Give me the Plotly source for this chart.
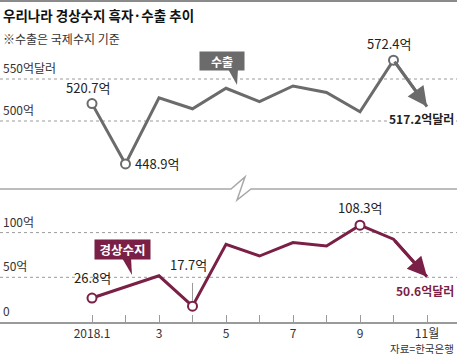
import plotly.graph_objects as go

W, H = 457, 356
FONT = "Noto Sans CJK KR"

# ---- data ----
months = [1, 2, 3, 4, 5, 6, 7, 8, 9, 10, 11]
month_labels = ["2018.1", "", "3", "", "5", "", "7", "", "9", "", "11월"]
exports = [520.7, 448.9, 527.7, 514.6, 539.0, 523.0, 541.7, 534.0, 511.0, 572.4, 517.2]
current = [26.8, 39.0, 51.7, 17.7, 87.0, 73.8, 88.8, 85.0, 108.3, 92.6, 50.6]
export_marks = [0, 1, 9]
current_marks = [0, 3, 8]
top_ticks = [550, 500]
top_tick_text = ["550억달러", "500억"]
bot_ticks = [100, 50, 0]
bot_tick_text = ["100억", "50억", "0"]

GRAY = "#6b6b6b"
MAROON = "#7a1f46"


def px(x):
    return x / W


def py(y):
    return 1 - y / H


# x scale: month 1 at pixel 92, 33.5 px per month
x_range = [1 - 92 / 33.5, 1 + (W - 92) / 33.5]
# bottom panel: 0 at pixel 322, 0.894 px per unit, top at 205
bot_range = [0, (322 - 205) / 0.894]
# top panel: 500 at pixel 121, 0.84 px per unit, domain 190..45
top_range = [500 - (190 - 121) / 0.84, 500 + (121 - 45) / 0.84]

fig = go.Figure()

fig.add_trace(go.Scatter(x=months, y=exports, xaxis="x2", yaxis="y2", mode="lines",
                         line=dict(color=GRAY, width=3), hoverinfo="skip"))
fig.add_trace(go.Scatter(x=[months[i] for i in export_marks], y=[exports[i] for i in export_marks],
                         xaxis="x2", yaxis="y2", mode="markers",
                         marker=dict(symbol="circle", size=9, color="white",
                                     line=dict(color=GRAY, width=2)), hoverinfo="skip"))
fig.add_trace(go.Scatter(x=months, y=current, mode="lines",
                         line=dict(color=MAROON, width=3), hoverinfo="skip"))
fig.add_trace(go.Scatter(x=[months[i] for i in current_marks], y=[current[i] for i in current_marks],
                         mode="markers",
                         marker=dict(symbol="circle", size=9, color="white",
                                     line=dict(color=MAROON, width=2)), hoverinfo="skip"))

shapes = []
# top border
shapes.append(dict(type="line", xref="paper", yref="paper", x0=0, x1=1, y0=py(1), y1=py(1),
                   line=dict(color="#8a8a8a", width=2)))
# gridlines
for v in top_ticks:
    shapes.append(dict(type="line", xref="paper", yref="y2", x0=0, x1=1, y0=v, y1=v,
                       line=dict(color="#9a9a9a", width=1, dash="dot"), layer="below"))
for v in bot_ticks[:-1]:
    shapes.append(dict(type="line", xref="paper", yref="y", x0=0, x1=1, y0=v, y1=v,
                       line=dict(color="#9a9a9a", width=1, dash="dot"), layer="below"))
# top panel baseline with break symbol
brk = [(0, 189), (231, 189), (245, 177), (237, 200), (251, 189), (W, 189)]
path = "M " + " L ".join(f"{px(a):.5f},{py(b):.5f}" for a, b in brk)
shapes.append(dict(type="path", xref="paper", yref="paper", path=path,
                   line=dict(color="#a8a8a8", width=1.5)))


# callout pointers (triangles below the text boxes)
def pointer(pts, color):
    p = "M " + " L ".join(f"{px(a):.5f},{py(b):.5f}" for a, b in pts) + " Z"
    return dict(type="path", xref="paper", yref="paper", path=p, layer="below",
                fillcolor=color, line=dict(color=color, width=0))


shapes.append(pointer([(238, 69), (237, 85), (228, 69)], GRAY))
shapes.append(pointer([(131, 258), (132, 275), (122, 258)], MAROON))
# leader line for 17.7
shapes.append(dict(type="line", xref="x", yref="y", x0=months[3], x1=months[3],
                   y0=current[3] + 6, y1=current[3] + 26, line=dict(color="#999", width=1)))

ann = []
ann.append(dict(text="<b>우리나라 경상수지 흑자·수출 추이</b>", xref="paper", yref="paper",
                x=px(1), y=py(15), xanchor="left", yanchor="middle", showarrow=False,
                font=dict(size=13.5, color="#111", family=FONT)))
ann.append(dict(text="※수출은 국제수지 기준", xref="paper", yref="paper",
                x=px(1), y=py(38), xanchor="left", yanchor="middle", showarrow=False,
                font=dict(size=12, color="#333", family=FONT)))
for v, t in zip(top_ticks, top_tick_text):
    ann.append(dict(text=t, xref="paper", yref="y2", x=px(1), y=v, xanchor="left", yanchor="bottom",
                    yshift=1, showarrow=False, font=dict(size=12, color="#333", family=FONT)))
for v, t in zip(bot_ticks, bot_tick_text):
    ann.append(dict(text=t, xref="paper", yref="y", x=px(1), y=v, xanchor="left", yanchor="bottom",
                    yshift=1, showarrow=False, font=dict(size=12, color="#333", family=FONT)))

lab = dict(size=13, color="#222", family=FONT)
ann.append(dict(text=f"{exports[0]}억", x=months[0], y=exports[0], xref="x2", yref="y2",
                yanchor="bottom", yshift=5, xshift=-4, showarrow=False, font=lab))
ann.append(dict(text=f"{exports[1]}억", x=months[1], y=exports[1], xref="x2", yref="y2",
                xanchor="left", yanchor="middle", xshift=7, showarrow=False, font=lab))
ann.append(dict(text=f"{exports[9]}억", x=months[9], y=exports[9], xref="x2", yref="y2",
                yanchor="bottom", yshift=5, xshift=-5, showarrow=False, font=lab))
ann.append(dict(text=f"{current[0]}억", x=months[0], y=current[0], xref="x", yref="y",
                yanchor="bottom", yshift=9, showarrow=False, font=lab))
ann.append(dict(text=f"{current[3]}억", x=months[3], y=current[3], xref="x", yref="y",
                yanchor="bottom", yshift=30, xshift=-4, showarrow=False, font=lab))
ann.append(dict(text=f"{current[8]}억", x=months[8], y=current[8], xref="x", yref="y",
                yanchor="bottom", yshift=6, showarrow=False, font=lab))
# end labels
ann.append(dict(text=f"<b>{exports[-1]}억달러</b>", xref="paper", yref="paper", x=px(456), y=py(118),
                xanchor="right", yanchor="middle", showarrow=False, bgcolor="white",
                font=dict(size=12, color="#222", family=FONT)))
ann.append(dict(text=f"<b>{current[-1]}억달러</b>", xref="paper", yref="paper", x=px(456), y=py(290),
                xanchor="right", yanchor="middle", showarrow=False,
                font=dict(size=12, color=MAROON, family=FONT)))
# arrowheads
ann.append(dict(x=months[-1], y=exports[-1], ax=months[-2], ay=exports[-2], xref="x2", yref="y2",
                axref="x2", ayref="y2", text="", showarrow=True, arrowhead=2, arrowsize=1.3,
                arrowwidth=3, arrowcolor=GRAY, standoff=0))
ann.append(dict(x=months[-1], y=current[-1], ax=months[-2], ay=current[-2], xref="x", yref="y",
                axref="x", ayref="y", text="", showarrow=True, arrowhead=2, arrowsize=1.3,
                arrowwidth=3, arrowcolor=MAROON, standoff=0))
# callout boxes with text
ann.append(dict(text="<b>수출</b>", xref="paper", yref="paper", x=px(222), y=py(61),
                xanchor="center", yanchor="middle", width=44, height=18, bgcolor=GRAY, borderpad=0,
                showarrow=False, font=dict(size=12, color="white", family=FONT)))
ann.append(dict(text="<b>경상수지</b>", xref="paper", yref="paper", x=px(122.5), y=py(249.5),
                xanchor="center", yanchor="middle", width=55, height=19, bgcolor=MAROON, borderpad=0,
                showarrow=False, font=dict(size=12.5, color="white", family=FONT)))
# source
ann.append(dict(text="자료=한국은행", xref="paper", yref="paper", x=px(455), y=py(348.5),
                xanchor="right", yanchor="middle", showarrow=False, borderpad=0,
                font=dict(size=10.5, color="#333", family=FONT)))

fig.update_layout(
    width=W, height=H, margin=dict(l=0, r=0, t=0, b=0),
    paper_bgcolor="white", plot_bgcolor="white", showlegend=False,
    font=dict(family=FONT),
    xaxis=dict(domain=[0, 1], range=x_range, anchor="y", tickvals=months, ticktext=month_labels,
               showline=True, linecolor="#9a9a9a", linewidth=1.5, ticks="inside", ticklen=7,
               tickcolor="#9a9a9a", tickwidth=1, showgrid=False, zeroline=False,
               ticklabelstandoff=0,
               tickfont=dict(size=12, color="#333", family=FONT), fixedrange=True),
    yaxis=dict(domain=[py(322), py(205)], range=bot_range, visible=False, fixedrange=True),
    xaxis2=dict(domain=[0, 1], range=x_range, anchor="y2", visible=False, fixedrange=True),
    yaxis2=dict(domain=[py(190), py(45)], range=top_range, anchor="x2", visible=False, fixedrange=True),
    shapes=shapes, annotations=ann,
)

fig.write_html("out.html", config={"displayModeBar": False},
               post_script="document.body.style.margin='0';")
